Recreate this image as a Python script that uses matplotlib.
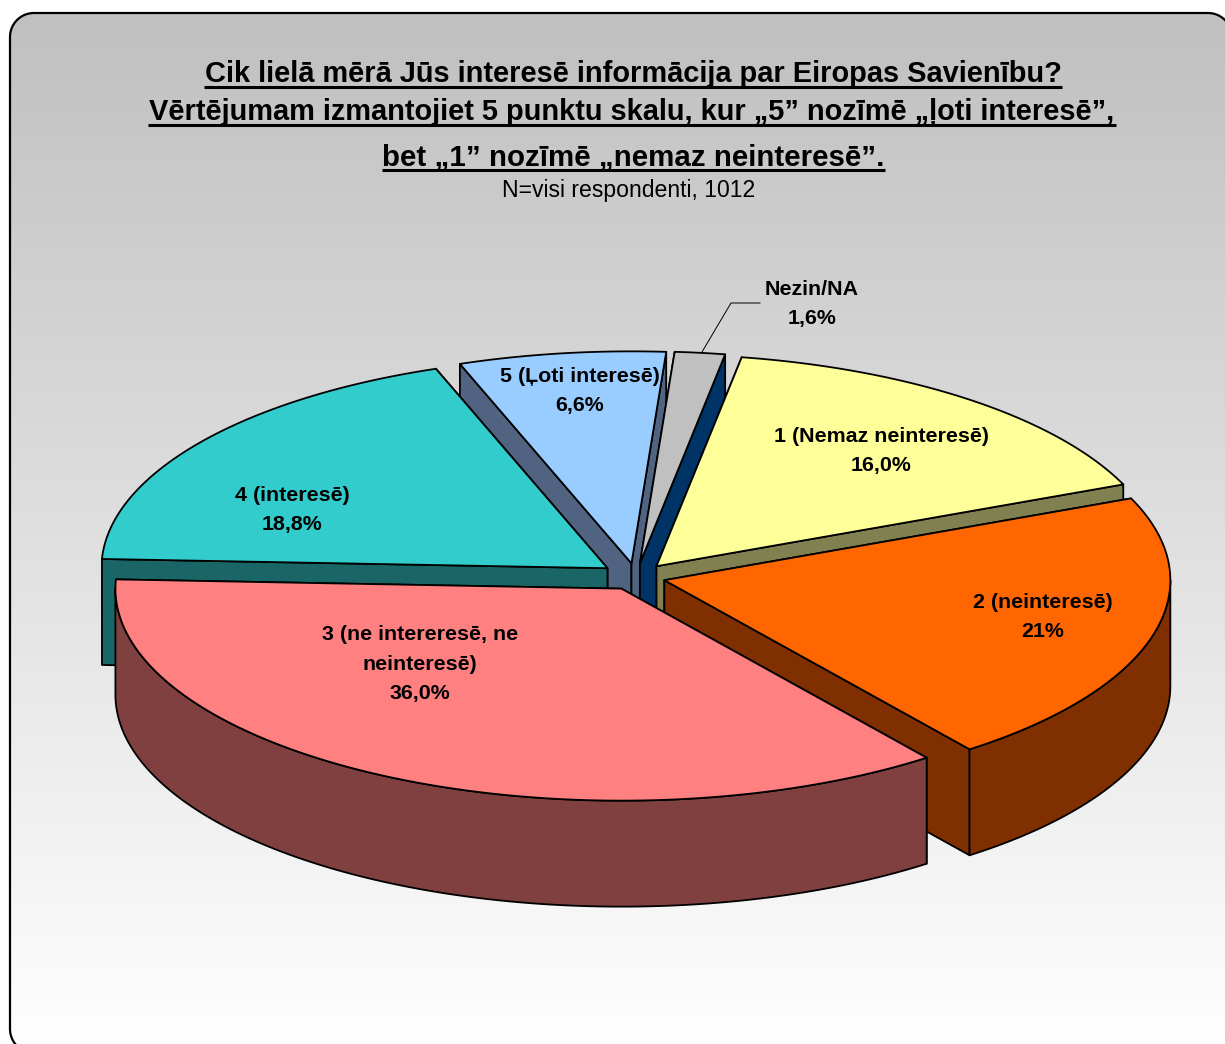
import numpy as np
import matplotlib
matplotlib.use('Agg')
import matplotlib.pyplot as plt
from matplotlib.colors import LinearSegmentedColormap
from matplotlib.patches import Polygon

# data, clockwise from the first slice
categories = ['1 (Nemaz neinteresē)', '2 (neinteresē)', '3 (ne intereresē, ne\nneinteresē)',
              '4 (interesē)', '5 (Ļoti interesē)', 'Nezin/NA']
values = [16.0, 21.0, 36.0, 18.8, 6.6, 1.6]
value_labels = ['16,0%', '21%', '36,0%', '18,8%', '6,6%', '1,6%']

title_lines = ['Cik lielā mērā Jūs interesē informācija par Eiropas Savienību?',
               'Vērtējumam izmantojiet 5 punktu skalu, kur „5” nozīmē „ļoti interesē”,',
               'bet „1” nozīmē „nemaz neinteresē”.']
subtitle = 'N=visi respondenti, 1012'

# styles
top_colors = ['#FFFF99', '#FF6600', '#FF8080', '#33CCCC', '#99CCFF', '#C0C0C0']
wall_colors = ['#808050', '#803000', '#804040', '#1A6666', '#506482', '#003366']
explode = [0.065, 0.058, 0.062, 0.07, 0.065, 0.065]
draw_order = [4, 3, 5, 0, 1, 2]
label_pos = [(881, 451), (1043, 617), (420, 664), (292, 510), (580, 391), (812, 304)]

start_angle = 9.7
cx, cy = 636, 577
rx, ry = 506, 212
depth = 106
EDGE = 1.3

fig = plt.figure(figsize=(12.25, 10.44), dpi=100)
ax = fig.add_axes([0, 0, 1, 1])
ax.axis('off')


def rounded_rect(x0, y0, x1, y1, r):
    corners = [(x1 - r, y0 + r, -90), (x1 - r, y1 - r, 0), (x0 + r, y1 - r, 90), (x0 + r, y0 + r, 180)]
    out = []
    for x, y, a in corners:
        ang = np.radians(np.linspace(a, a + 90, 30))
        out.extend(zip(x + r * np.cos(ang), y + r * np.sin(ang)))
    return out


# background panel
panel = Polygon(rounded_rect(10, 13, 1232, 1053, 24), closed=True, facecolor='none',
                edgecolor='black', linewidth=1.6, zorder=2)
ax.add_patch(panel)
grad = np.linspace(0, 1, 256).reshape(-1, 1)
im = ax.imshow(grad, cmap=LinearSegmentedColormap.from_list('bg', ['#C0C0C0', '#FFFFFF']),
               extent=(10, 1232, 1053, 13), aspect='auto', zorder=1)
im.set_clip_path(panel)
ax.set_xlim(0, 1225)
ax.set_ylim(1044, 0)


def pt(t, r=1.0):
    return np.array([r * rx * np.sin(np.radians(t)), -r * ry * np.cos(np.radians(t))])


def draw_slice(i, t0, t1):
    mid = (t0 + t1) / 2
    apex = np.array([cx, cy]) + pt(mid, explode[i])
    down = np.array([0, depth])
    a = apex + pt(t0)
    b = apex + pt(t1)
    walls = []
    # radial walls, hidden ones first
    for edge_pt, normal in [(a, t0 - 90), (b, t1 + 90)]:
        walls.append((np.cos(np.radians(normal)) < 0, [apex, edge_pt, edge_pt + down, apex + down]))
    walls.sort(key=lambda w: w[0])
    for visible, quad in walls:
        ax.add_patch(Polygon(quad, closed=True, facecolor=wall_colors[i], edgecolor='black',
                             linewidth=EDGE, joinstyle='round', zorder=3))
    # outer wall, only the front half of the rim shows
    lo, hi = max(t0, 90), min(t1, 270)
    if hi > lo:
        ts = np.linspace(lo, hi, 120)
        rim = np.array([apex + pt(t) for t in ts])
        ax.add_patch(Polygon(np.vstack([rim, rim[::-1] + down]), closed=True, facecolor=wall_colors[i],
                             edgecolor='black', linewidth=EDGE, joinstyle='round', zorder=3))
    ts = np.linspace(t0, t1, 160)
    top = np.vstack([[apex], [apex + pt(t) for t in ts]])
    ax.add_patch(Polygon(top, closed=True, facecolor=top_colors[i], edgecolor='black',
                         linewidth=EDGE, joinstyle='round', zorder=3))


edges = start_angle + np.concatenate([[0], np.cumsum(values)]) / sum(values) * 360
for i in draw_order:
    draw_slice(i, edges[i], edges[i + 1])

# leader line for the small slice
ax.plot([702, 731, 760], [352, 303, 303], color='black', linewidth=0.7, zorder=4)

for name, val, (x, y) in zip(categories, value_labels, label_pos):
    ax.text(x, y, name + '\n' + val, ha='center', va='center', fontsize=15.4, fontweight='bold',
            family='Liberation Sans', linespacing=1.7, zorder=5)

# title, scaled to the width of each line, underline drawn by hand
renderer = fig.canvas.get_renderer()
title_geo = [(633, 82, 858), (632, 120, 968), (633, 165, 503)]
for line, (x, y, width) in zip(title_lines, title_geo):
    t = ax.text(x, y, line, ha='center', va='baseline', fontsize=20, fontweight='bold',
                family='Liberation Sans', zorder=5)
    t.set_fontsize(20 * width / t.get_window_extent(renderer).width)
    ax.plot([x - width / 2, x + width / 2], [y + 5, y + 5], color='black', linewidth=2.2,
            solid_capstyle='butt', zorder=5)

ax.text(629, 191, subtitle, ha='center', va='center', fontsize=16.6, family='Liberation Sans', zorder=5)

fig.savefig('out.png', dpi=100)
